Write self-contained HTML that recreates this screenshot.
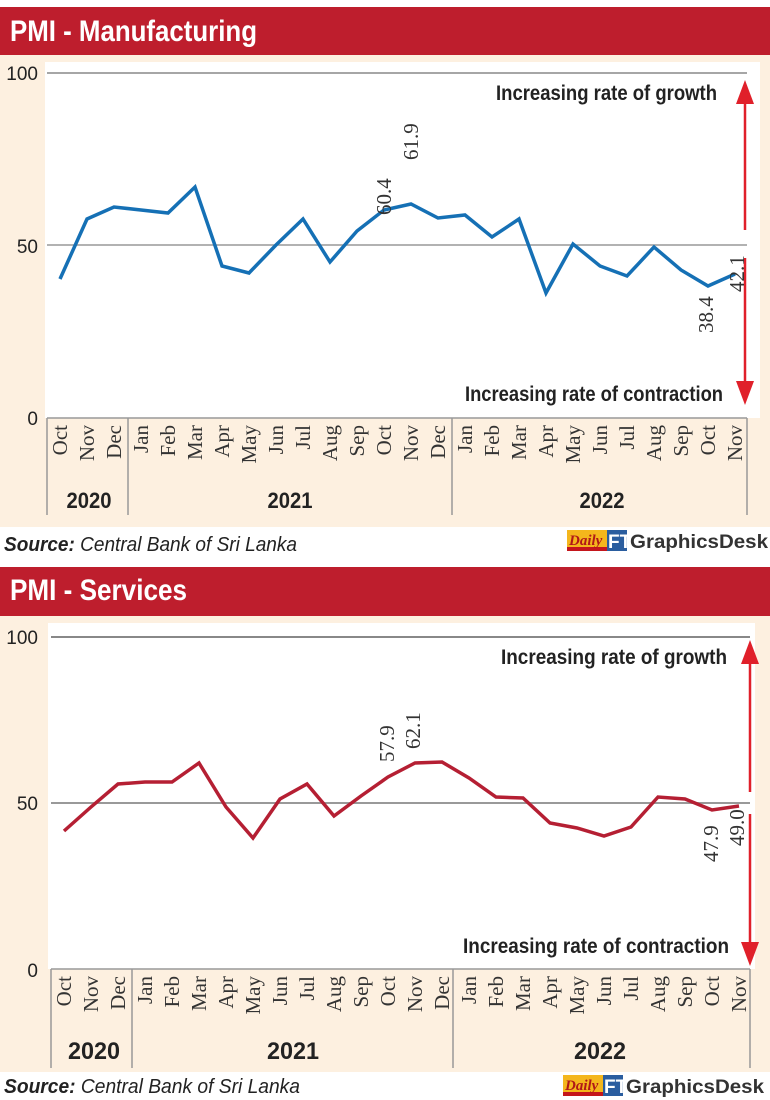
<!DOCTYPE html>
<html><head><meta charset="utf-8"><style>
html,body{margin:0;padding:0;background:#fff;}
svg{display:block;}
.t{font-family:"Liberation Sans Narrow","Liberation Sans",sans-serif;font-weight:bold;}
.m{font-family:"Liberation Serif",serif;font-size:21px;fill:#333;}
.y{font-family:"Liberation Sans Narrow","Liberation Sans",sans-serif;font-size:19px;fill:#222;}
.d{font-family:"Liberation Serif",serif;font-size:21px;fill:#333;}
.s{font-family:"Liberation Sans Narrow","Liberation Sans",sans-serif;font-style:italic;font-size:20px;fill:#222;}
</style></head><body>
<svg width="770" height="1100" xmlns="http://www.w3.org/2000/svg">
<defs>
<g id="logo">
<rect x="0" y="0" width="42" height="21" fill="#f4b61c"/>
<rect x="0" y="17" width="42" height="4" fill="#c4161c"/>
<text x="2" y="15" font-family="Liberation Serif,serif" font-style="italic" font-weight="bold" font-size="15" fill="#b01818">Daily</text>
<rect x="40" y="0" width="20" height="21" fill="#2a5d9f"/>
<text x="41" y="18" font-family="Liberation Sans,sans-serif" font-weight="bold" font-size="19" fill="#fff">FT</text>
<text x="63" y="18" font-family="Liberation Sans,sans-serif" font-weight="bold" font-size="19" fill="#333" textLength="138" lengthAdjust="spacingAndGlyphs">GraphicsDesk</text>
</g>
</defs>

<!-- ===== TOP ===== -->
<rect x="0" y="7" width="770" height="48" fill="#be1e2d"/>
<text class="t" x="10" y="41" font-size="30" fill="#fff" textLength="247" lengthAdjust="spacingAndGlyphs">PMI - Manufacturing</text>
<rect x="0" y="55" width="770" height="472" fill="#fdf0e0"/>
<rect x="45" y="62" width="715" height="356" fill="#fff"/>
<line x1="47" y1="73" x2="747" y2="73" stroke="#888" stroke-width="1.5"/>
<line x1="47" y1="245" x2="747" y2="245" stroke="#999" stroke-width="1.5"/>
<line x1="47" y1="418" x2="747" y2="418" stroke="#999" stroke-width="1.5"/>
<line x1="47" y1="418" x2="47" y2="515" stroke="#999" stroke-width="1.5"/>
<line x1="128" y1="418" x2="128" y2="515" stroke="#999" stroke-width="1.5"/>
<line x1="452" y1="418" x2="452" y2="515" stroke="#999" stroke-width="1.5"/>
<line x1="747" y1="418" x2="747" y2="515" stroke="#999" stroke-width="1.5"/>
<text class="y" x="38" y="80" text-anchor="end">100</text>
<text class="y" x="38" y="253" text-anchor="end">50</text>
<text class="y" x="38" y="425" text-anchor="end">0</text>

<text class="t" x="717" y="100" font-size="21" fill="#222" text-anchor="end" textLength="221" lengthAdjust="spacingAndGlyphs">Increasing rate of growth</text>
<text class="t" x="723" y="401" font-size="21" fill="#222" text-anchor="end" textLength="258" lengthAdjust="spacingAndGlyphs">Increasing rate of contraction</text>
<line x1="745" y1="100" x2="745" y2="230" stroke="#e0202a" stroke-width="2.5"/>
<polygon points="745,80 736,104 754,104" fill="#e0202a"/>
<line x1="745" y1="258" x2="745" y2="385" stroke="#e0202a" stroke-width="2.5"/>
<polygon points="745,405 736,381 754,381" fill="#e0202a"/>

<polyline fill="none" stroke="#1570b5" stroke-width="3.5" stroke-linejoin="miter" points="60,279 87,219 114,207 141,210 168,213 195,187 222,266 249,273 276,245 303,219 330,262 357,231 384,210 411,204 438,218 465,215 492,237 519,219 546,293 573,244 600,266 627,276 654,247 681,270 708,286 735,274"/>
<text class="d" transform="translate(391,215) rotate(-90)">60.4</text>
<text class="d" transform="translate(418,160) rotate(-90)">61.9</text>
<text class="d" transform="translate(713,333) rotate(-90)">38.4</text>
<text class="d" transform="translate(744,292) rotate(-90)">42.1</text>

<g class="m" text-anchor="end">
<text transform="translate(67,425) rotate(-90)">Oct</text>
<text transform="translate(94,425) rotate(-90)">Nov</text>
<text transform="translate(121,425) rotate(-90)">Dec</text>
<text transform="translate(148,425) rotate(-90)">Jan</text>
<text transform="translate(175,425) rotate(-90)">Feb</text>
<text transform="translate(202,425) rotate(-90)">Mar</text>
<text transform="translate(229,425) rotate(-90)">Apr</text>
<text transform="translate(256,425) rotate(-90)">May</text>
<text transform="translate(283,425) rotate(-90)">Jun</text>
<text transform="translate(310,425) rotate(-90)">Jul</text>
<text transform="translate(337,425) rotate(-90)">Aug</text>
<text transform="translate(364,425) rotate(-90)">Sep</text>
<text transform="translate(391,425) rotate(-90)">Oct</text>
<text transform="translate(418,425) rotate(-90)">Nov</text>
<text transform="translate(445,425) rotate(-90)">Dec</text>
<text transform="translate(472,425) rotate(-90)">Jan</text>
<text transform="translate(499,425) rotate(-90)">Feb</text>
<text transform="translate(526,425) rotate(-90)">Mar</text>
<text transform="translate(553,425) rotate(-90)">Apr</text>
<text transform="translate(580,425) rotate(-90)">May</text>
<text transform="translate(607,425) rotate(-90)">Jun</text>
<text transform="translate(634,425) rotate(-90)">Jul</text>
<text transform="translate(661,425) rotate(-90)">Aug</text>
<text transform="translate(688,425) rotate(-90)">Sep</text>
<text transform="translate(715,425) rotate(-90)">Oct</text>
<text transform="translate(742,425) rotate(-90)">Nov</text>
</g>
<g class="t" font-size="22" fill="#222" text-anchor="middle">
<text x="89" y="508" textLength="45" lengthAdjust="spacingAndGlyphs">2020</text>
<text x="290" y="508" textLength="45" lengthAdjust="spacingAndGlyphs">2021</text>
<text x="602" y="508" textLength="45" lengthAdjust="spacingAndGlyphs">2022</text>
</g>
<text class="s" x="4" y="551" textLength="293" lengthAdjust="spacingAndGlyphs"><tspan font-weight="bold">Source:</tspan> Central Bank of Sri Lanka</text>
<use href="#logo" x="567" y="530"/>

<!-- ===== BOTTOM ===== -->
<rect x="0" y="567" width="770" height="49" fill="#be1e2d"/>
<text class="t" x="10" y="600" font-size="30" fill="#fff" textLength="177" lengthAdjust="spacingAndGlyphs">PMI - Services</text>
<rect x="0" y="616" width="770" height="456" fill="#fdf0e0"/>
<rect x="48" y="623" width="707" height="346" fill="#fff"/>
<line x1="51" y1="637" x2="750" y2="637" stroke="#888" stroke-width="2"/>
<line x1="51" y1="803" x2="750" y2="803" stroke="#999" stroke-width="2"/>
<line x1="51" y1="969" x2="750" y2="969" stroke="#999" stroke-width="1.5"/>
<line x1="51" y1="969" x2="51" y2="1068" stroke="#999" stroke-width="1.5"/>
<line x1="132" y1="969" x2="132" y2="1068" stroke="#999" stroke-width="1.5"/>
<line x1="453" y1="969" x2="453" y2="1068" stroke="#999" stroke-width="1.5"/>
<line x1="750" y1="969" x2="750" y2="1068" stroke="#999" stroke-width="1.5"/>
<text class="y" x="38" y="644" text-anchor="end">100</text>
<text class="y" x="38" y="810" text-anchor="end">50</text>
<text class="y" x="38" y="977" text-anchor="end">0</text>

<text class="t" x="727" y="664" font-size="21" fill="#222" text-anchor="end" textLength="226" lengthAdjust="spacingAndGlyphs">Increasing rate of growth</text>
<text class="t" x="729" y="953" font-size="21" fill="#222" text-anchor="end" textLength="266" lengthAdjust="spacingAndGlyphs">Increasing rate of contraction</text>
<line x1="750" y1="660" x2="750" y2="792" stroke="#e0202a" stroke-width="2.5"/>
<polygon points="750,640 741,664 759,664" fill="#e0202a"/>
<line x1="750" y1="814" x2="750" y2="945" stroke="#e0202a" stroke-width="2.5"/>
<polygon points="750,966 741,942 759,942" fill="#e0202a"/>

<polyline fill="none" stroke="#b51f33" stroke-width="3.5" points="64,831 91,807 118,784 145,782 172,782 199,763 226,807 253,838 280,799 307,784 334,816 361,796 388,777 415,763 442,762 469,778 496,797 523,798 550,823 577,828 604,836 631,827 658,797 685,799 712,810 739,806"/>
<text class="d" transform="translate(394,762) rotate(-90)">57.9</text>
<text class="d" transform="translate(420,749) rotate(-90)">62.1</text>
<text class="d" transform="translate(718,862) rotate(-90)">47.9</text>
<text class="d" transform="translate(744,846) rotate(-90)">49.0</text>

<g class="m" text-anchor="end">
<text transform="translate(71,976) rotate(-90)">Oct</text>
<text transform="translate(98,976) rotate(-90)">Nov</text>
<text transform="translate(125,976) rotate(-90)">Dec</text>
<text transform="translate(152,976) rotate(-90)">Jan</text>
<text transform="translate(179,976) rotate(-90)">Feb</text>
<text transform="translate(206,976) rotate(-90)">Mar</text>
<text transform="translate(233,976) rotate(-90)">Apr</text>
<text transform="translate(260,976) rotate(-90)">May</text>
<text transform="translate(287,976) rotate(-90)">Jun</text>
<text transform="translate(314,976) rotate(-90)">Jul</text>
<text transform="translate(341,976) rotate(-90)">Aug</text>
<text transform="translate(368,976) rotate(-90)">Sep</text>
<text transform="translate(395,976) rotate(-90)">Oct</text>
<text transform="translate(422,976) rotate(-90)">Nov</text>
<text transform="translate(449,976) rotate(-90)">Dec</text>
<text transform="translate(476,976) rotate(-90)">Jan</text>
<text transform="translate(503,976) rotate(-90)">Feb</text>
<text transform="translate(530,976) rotate(-90)">Mar</text>
<text transform="translate(557,976) rotate(-90)">Apr</text>
<text transform="translate(584,976) rotate(-90)">May</text>
<text transform="translate(611,976) rotate(-90)">Jun</text>
<text transform="translate(638,976) rotate(-90)">Jul</text>
<text transform="translate(665,976) rotate(-90)">Aug</text>
<text transform="translate(692,976) rotate(-90)">Sep</text>
<text transform="translate(719,976) rotate(-90)">Oct</text>
<text transform="translate(746,976) rotate(-90)">Nov</text>
</g>
<g class="t" font-size="24" fill="#222" text-anchor="middle">
<text x="94" y="1059" textLength="52" lengthAdjust="spacingAndGlyphs">2020</text>
<text x="293" y="1059" textLength="52" lengthAdjust="spacingAndGlyphs">2021</text>
<text x="600" y="1059" textLength="52" lengthAdjust="spacingAndGlyphs">2022</text>
</g>
<text class="s" x="4" y="1093" textLength="296" lengthAdjust="spacingAndGlyphs"><tspan font-weight="bold">Source:</tspan> Central Bank of Sri Lanka</text>
<use href="#logo" x="563" y="1075"/>
</svg>
</body></html>
